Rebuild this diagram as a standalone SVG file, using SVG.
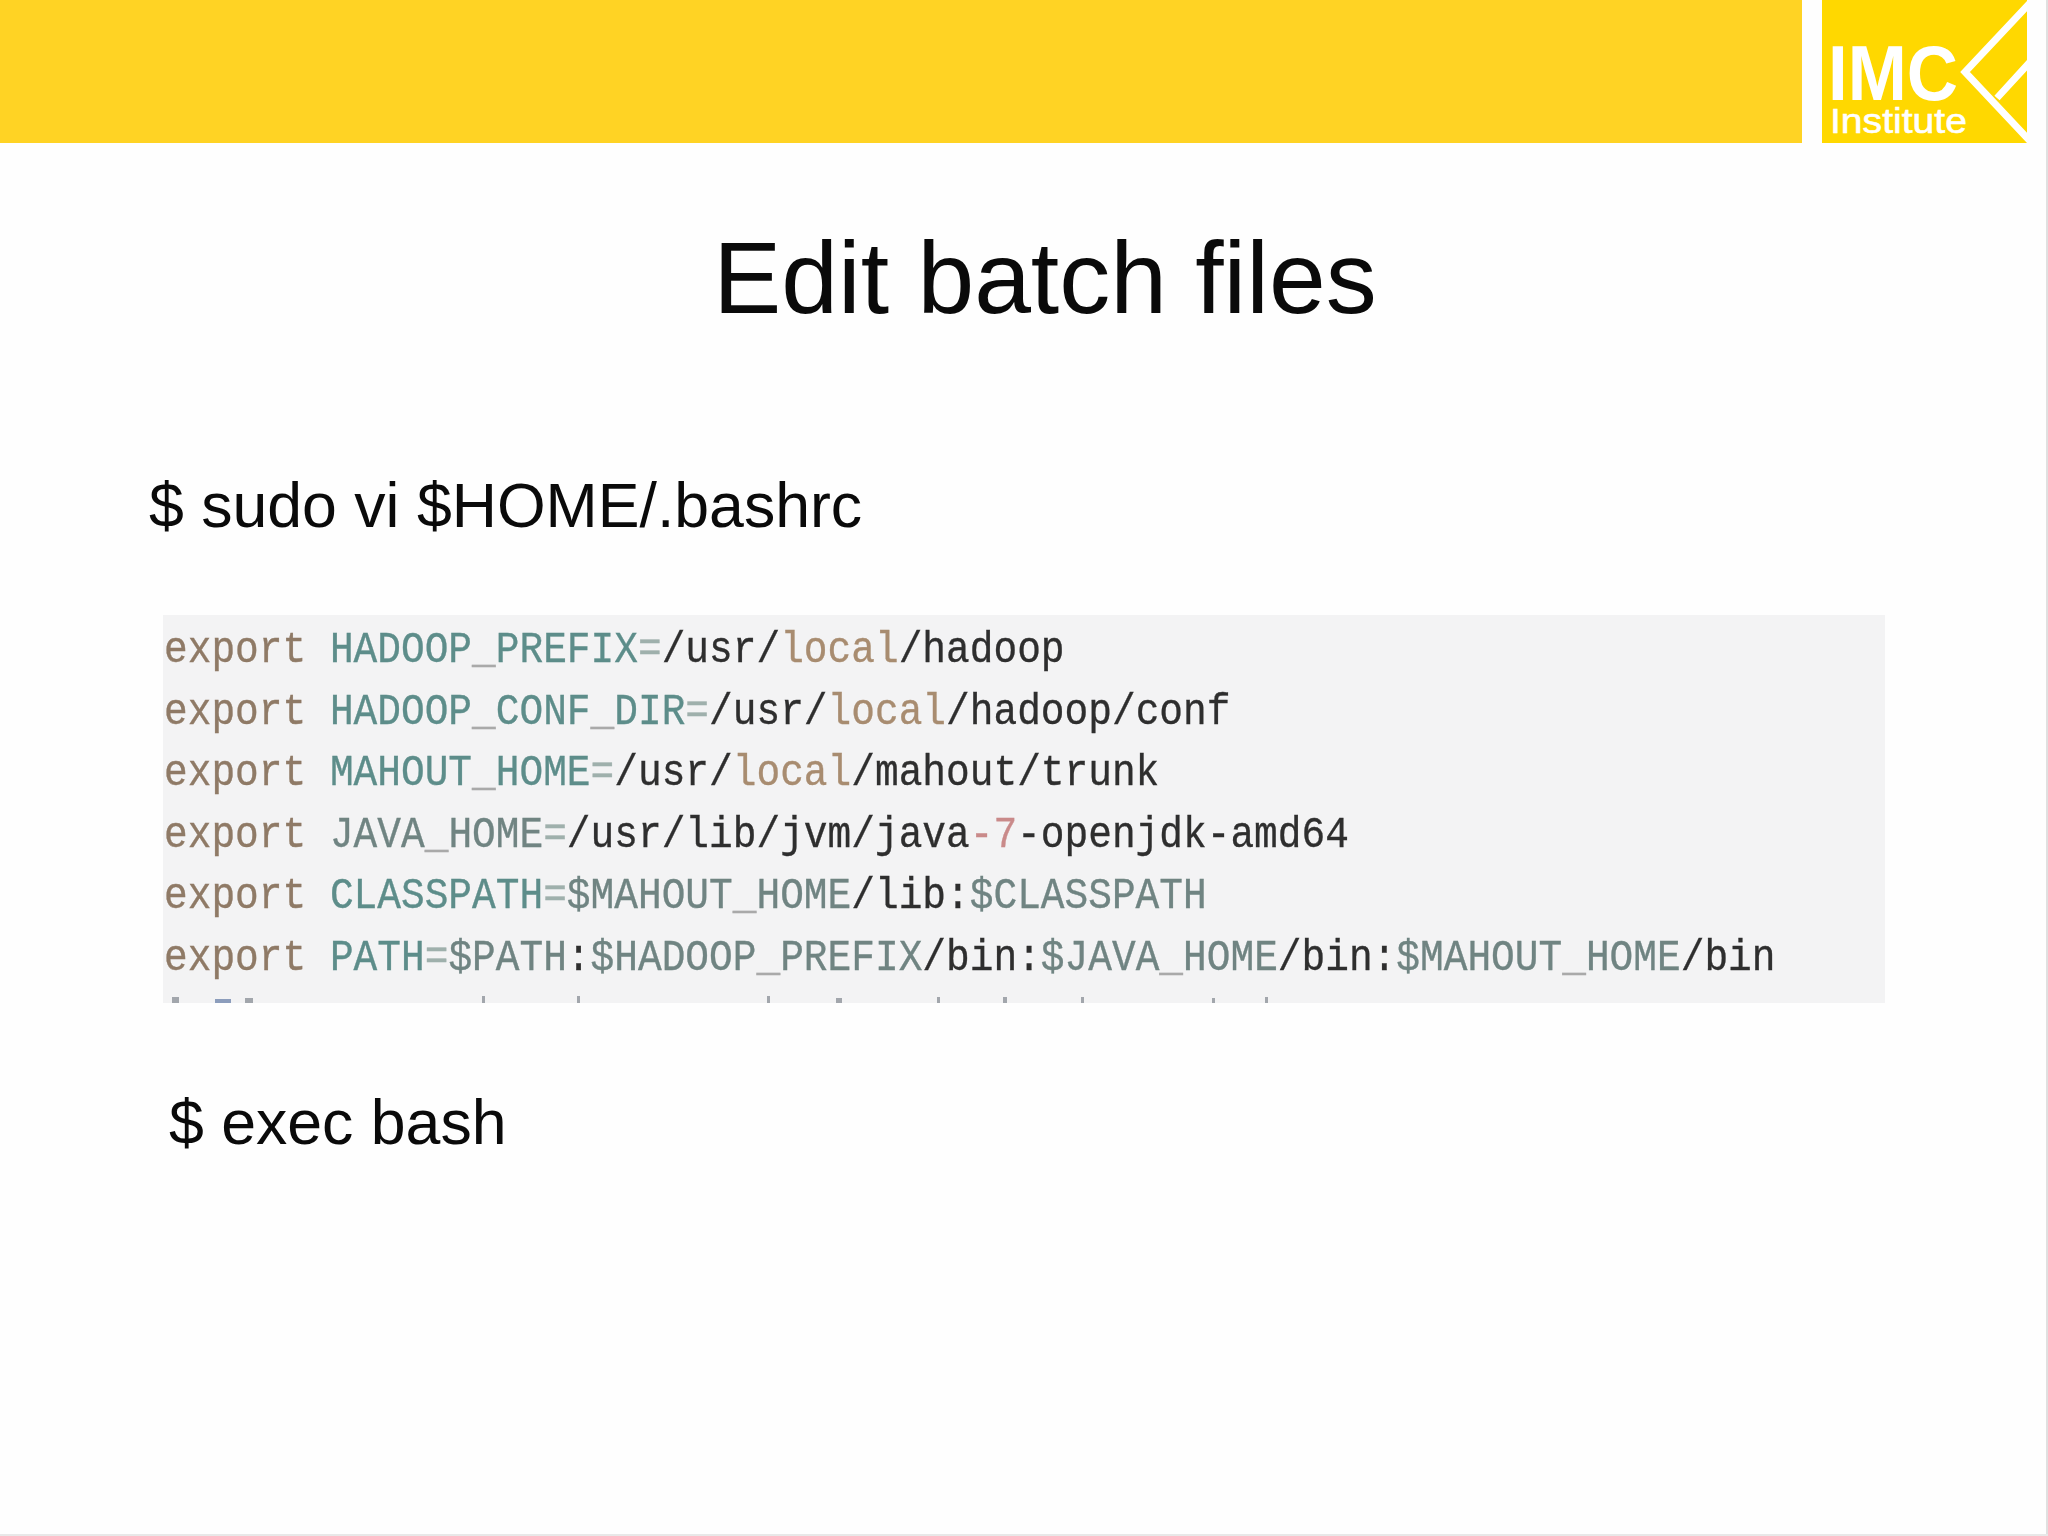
<svg xmlns="http://www.w3.org/2000/svg" width="2048" height="1536" viewBox="0 0 2048 1536">
<style>
.s{font-family:"Liberation Sans",Arial,sans-serif;fill:#0a0a0a}
.c{font-family:"Liberation Mono","Courier New",monospace;font-size:45.1px;fill:#2e2e2e;stroke:#2e2e2e;stroke-width:.35}
.e{fill:#8f7a66;stroke:#8f7a66}.v{fill:#5d8d8a;stroke:#5d8d8a}.q{fill:#9fb0ac;stroke:#9fb0ac}.l{fill:#a88c70;stroke:#a88c70}.g{fill:#6f8482;stroke:#6f8482}.u{fill:#a9a9a9;stroke:#a9a9a9}.r{fill:#c98a8a;stroke:#c98a8a}
</style>
<defs>
<filter id="b" x="-2%" y="-2%" width="104%" height="104%"><feGaussianBlur stdDeviation="0.7"/></filter>
<clipPath id="p"><rect x="163" y="615" width="1722" height="388"/></clipPath>
<clipPath id="lg"><rect x="1822" y="0" width="205" height="143"/></clipPath>
</defs>
<rect width="2048" height="1536" fill="#fefefe"/>
<rect x="2046" y="0" width="2" height="1536" fill="#e0e0e0"/>
<rect x="0" y="1534" width="2048" height="2" fill="#e8e8e8"/>
<g id="banner"><rect width="1802" height="143" fill="#ffd324"/></g>
<g id="logo">
<rect x="1822" width="205" height="143" fill="#ffd800"/>
<g clip-path="url(#lg)" fill="none" stroke="#fff" stroke-width="7"><path d="M2030 3L1965 72L2030 141M1997 98L2030 62"/></g>
<text x="1828" y="100" font-family="Liberation Sans" font-size="78" font-weight="700" fill="#fff" textLength="130" lengthAdjust="spacingAndGlyphs">IMC</text>
<text x="1830" y="133" font-family="Liberation Sans" font-size="35" fill="#fff" stroke="#fff" stroke-width=".6" textLength="137" lengthAdjust="spacingAndGlyphs">Institute</text>
</g>
<g id="title"><text class="s" x="1045" y="313" font-size="102" text-anchor="middle">Edit batch files</text></g>
<g id="cmd1"><text class="s" x="149" y="527" font-size="62.6">$ sudo vi $HOME/.bashrc</text></g>
<g id="code">
<rect x="163" y="615" width="1722" height="388" fill="#f3f3f4"/>
<g clip-path="url(#p)" filter="url(#b)">
<text class="c" transform="translate(164 662) scale(.876 1)"><tspan class="e">export </tspan><tspan class="v">HADOOP</tspan><tspan class="u">_</tspan><tspan class="v">PREFIX</tspan><tspan class="q">=</tspan>/usr/<tspan class="l">local</tspan>/hadoop</text>
<text class="c" transform="translate(164 723.5) scale(.876 1)"><tspan class="e">export </tspan><tspan class="v">HADOOP</tspan><tspan class="u">_</tspan><tspan class="v">CONF</tspan><tspan class="u">_</tspan><tspan class="v">DIR</tspan><tspan class="q">=</tspan>/usr/<tspan class="l">local</tspan>/hadoop/conf</text>
<text class="c" transform="translate(164 785) scale(.876 1)"><tspan class="e">export </tspan><tspan class="v">MAHOUT</tspan><tspan class="u">_</tspan><tspan class="v">HOME</tspan><tspan class="q">=</tspan>/usr/<tspan class="l">local</tspan>/mahout/trunk</text>
<text class="c" transform="translate(164 847) scale(.876 1)"><tspan class="e">export </tspan><tspan class="g">JAVA</tspan><tspan class="u">_</tspan><tspan class="g">HOME</tspan><tspan class="q">=</tspan>/usr/lib/jvm/java<tspan class="r">-7</tspan>-openjdk-amd64</text>
<text class="c" transform="translate(164 908) scale(.876 1)"><tspan class="e">export </tspan><tspan class="v">CLASSPATH</tspan><tspan class="q">=</tspan><tspan class="g">$MAHOUT</tspan><tspan class="u">_</tspan><tspan class="g">HOME</tspan>/lib:<tspan class="g">$CLASSPATH</tspan></text>
<text class="c" transform="translate(164 970) scale(.876 1)"><tspan class="e">export </tspan><tspan class="v">PATH</tspan><tspan class="q">=</tspan><tspan class="g">$PATH</tspan>:<tspan class="g">$HADOOP</tspan><tspan class="u">_</tspan><tspan class="g">PREFIX</tspan>/bin:<tspan class="g">$JAVA</tspan><tspan class="u">_</tspan><tspan class="g">HOME</tspan>/bin:<tspan class="g">$MAHOUT</tspan><tspan class="u">_</tspan><tspan class="g">HOME</tspan>/bin</text>
<g fill="#a2a6ac">
<rect x="172" y="997" width="7" height="6"/><rect x="215" y="999" width="16" height="4" fill="#8c9dbc"/><rect x="245" y="998" width="8" height="5"/><rect x="482" y="996" width="3" height="7"/><rect x="577" y="996" width="3" height="7"/><rect x="767" y="996" width="3" height="7"/><rect x="836" y="998" width="6" height="5"/><rect x="937" y="997" width="3" height="6"/><rect x="1003" y="997" width="4" height="6"/><rect x="1081" y="997" width="3" height="6"/><rect x="1212" y="998" width="3" height="5"/><rect x="1265" y="997" width="3" height="6"/>
</g>
</g>
</g>
<g id="cmd2"><text class="s" x="169" y="1144" font-size="62.6">$ exec bash</text></g>
</svg>
